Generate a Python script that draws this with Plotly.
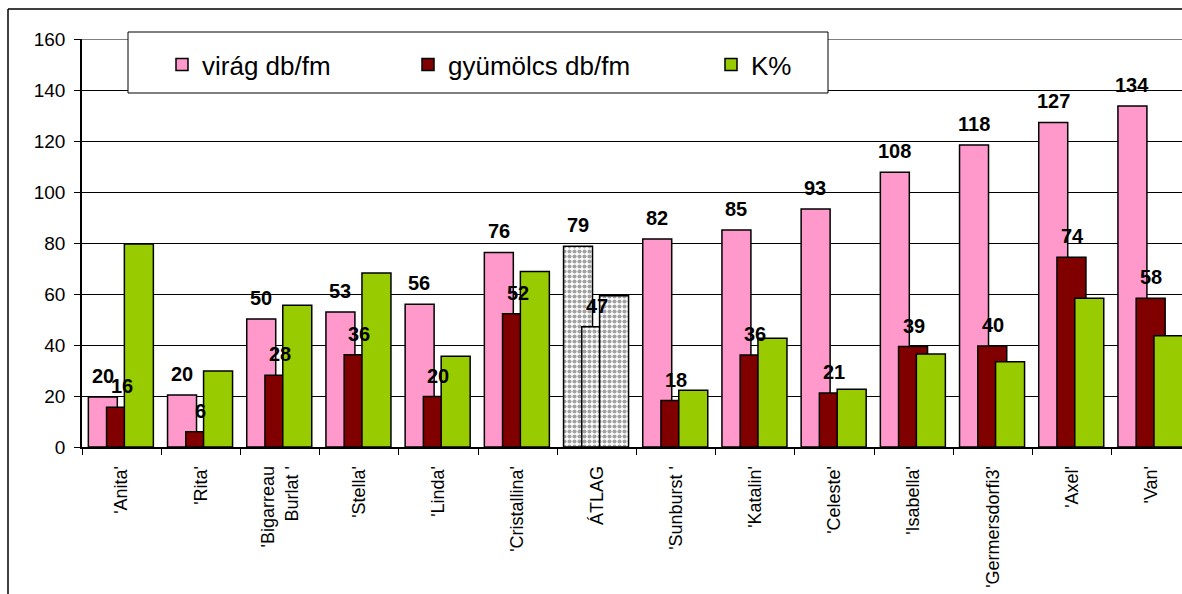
import plotly.graph_objects as go

# cultivars (x categories)
cultivars = ["'Anita'", "'Rita'", "'Bigarreau<br>Burlat '", "'Stella'", "'Linda'",
             "'Cristallina'", "ÁTLAG", "'Sunburst '", "'Katalin'", "'Celeste'",
             "'Isabella'", "'Germersdorfi3'", "'Axel'", "'Van'"]

# series values
virag = [19.6, 20.4, 50.2, 52.9, 56.0, 76.3, 78.7, 81.6, 85.1, 93.3, 107.7, 118.4, 127.3, 133.7]
gyumolcs = [15.6, 6.0, 28.1, 36.2, 19.8, 52.3, 47.2, 18.2, 36.1, 21.2, 39.4, 39.6, 74.4, 58.3]
k_szazalek = [79.6, 29.8, 55.6, 68.2, 35.6, 68.8, 59.3, 22.3, 42.6, 22.6, 36.5, 33.4, 58.3, 43.6]

series_names = ["virág db/fm", "gyümölcs db/fm", "K%"]
y_ticks = [0, 20, 40, 60, 80, 100, 120, 140, 160]

FONT = "Arial, Liberation Sans, sans-serif"
PINK, DARKRED, GREEN = "#FF99CC", "#800000", "#99CC00"

# pixel layout helpers (plot area 82..1182 x 39..447)
L, R, T, B = 82, 0, 39, 147
W, H = 1182, 594
PW, PH = W - L - R, H - T - B


def px_x(p):
    return (p - L) / PW


def px_y(p):
    return (H - B - p) / PH


def bar_marker(color, dot_color):
    is_avg = [c == "ÁTLAG" for c in cultivars]
    return dict(
        color=["white" if a else color for a in is_avg],
        line=dict(color="black", width=1.5),
        pattern=dict(shape=["." if a else "" for a in is_avg],
                     fgcolor=dot_color, bgcolor="white", size=5, solidity=0.55),
    )


bar_w = 0.366
fig = go.Figure()
fig.add_trace(go.Bar(x=cultivars, y=virag, name=series_names[0], width=bar_w, offset=-0.42,
                     marker=bar_marker(PINK, "#b8b8b8"), legendwidth=201))
fig.add_trace(go.Bar(x=cultivars, y=gyumolcs, name=series_names[1], width=bar_w, offset=-0.19,
                     marker=bar_marker(DARKRED, "#2a2a2a"), legendwidth=258))
fig.add_trace(go.Bar(x=cultivars, y=k_szazalek, name=series_names[2], width=bar_w, offset=0.035,
                     marker=bar_marker(GREEN, "#8a8a8a"), legendwidth=60))

# data labels (only flowers and fruits), kept on top of all bars
for cat, v in zip(cultivars, virag):
    fig.add_annotation(x=cat, y=v, text=f"{v:.0f}", showarrow=False, xshift=-19,
                       yanchor="bottom", yshift=8,
                       font=dict(family=FONT, size=20, color="black", weight="bold"))
for cat, v in zip(cultivars, gyumolcs):
    fig.add_annotation(x=cat, y=v, text=f"{v:.0f}", showarrow=False, xshift=0,
                       yanchor="bottom", yshift=8,
                       font=dict(family=FONT, size=20, color="black", weight="bold"))

# chart frame, top plot border and legend box
fig.add_shape(type="line", xref="paper", yref="paper", x0=px_x(8), x1=px_x(8),
              y0=px_y(700), y1=px_y(9), line=dict(color="black", width=1.5))
fig.add_shape(type="line", xref="paper", yref="paper", x0=px_x(8), x1=px_x(1300),
              y0=px_y(9), y1=px_y(9), line=dict(color="black", width=1.5))
fig.add_shape(type="line", xref="paper", yref="y", x0=0, x1=1, y0=160, y1=160,
              line=dict(color="#808080", width=2))
fig.add_shape(type="rect", xref="paper", yref="paper", layer="above",
              x0=px_x(128), x1=px_x(828), y0=px_y(93), y1=px_y(32),
              fillcolor="white", line=dict(color="black", width=1))

fig.update_layout(
    width=W, height=H,
    margin=dict(l=L, r=R, t=T, b=B),
    barmode="overlay",
    plot_bgcolor="white", paper_bgcolor="white",
    font=dict(family=FONT, color="black"),
    showlegend=True,
    legend=dict(orientation="h", x=px_x(162), xanchor="left", y=px_y(64.5), yanchor="middle",
                bgcolor="rgba(0,0,0,0)", borderwidth=0, font=dict(size=26, family=FONT),
                traceorder="normal"),
)
fig.update_xaxes(type="category", range=[-0.5, -0.5 + PW / 79.2], tickangle=-90,
                 tickson="boundaries", ticks="outside", ticklen=6, tickcolor="black",
                 showline=True, linecolor="black", linewidth=1.5, showgrid=False,
                 tickfont=dict(size=18, family=FONT), ticklabelstandoff=10)
fig.update_yaxes(range=[0, 160], tickvals=y_ticks, ticks="outside", ticklen=6, tickcolor="black",
                 showline=True, linecolor="black", linewidth=1.5,
                 showgrid=True, gridcolor="black", gridwidth=1, zeroline=False,
                 tickfont=dict(size=19, family=FONT), ticklabelstandoff=5)

# the page's default body margin would push the figure 8px off the window edge
fig.write_html("out.html", config={"displayModeBar": False},
               post_script="document.body.style.margin='0';")
